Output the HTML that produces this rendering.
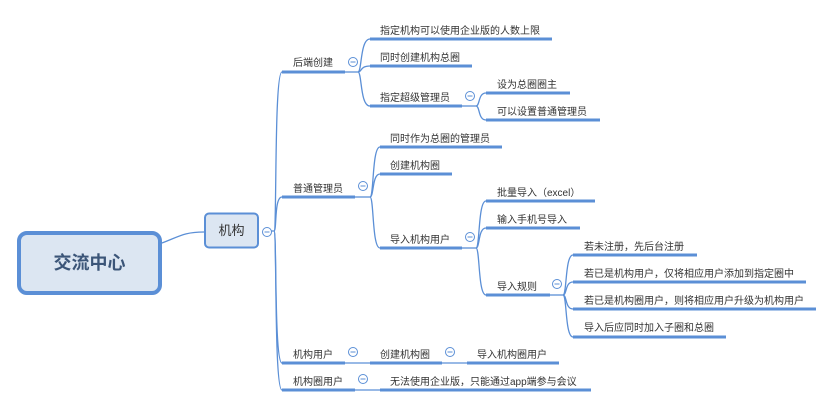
<!DOCTYPE html>
<html><head><meta charset="utf-8"><style>
html,body{margin:0;padding:0;background:#fff;width:834px;height:407px;overflow:hidden}
text{font-family:"Liberation Sans","Noto Sans CJK SC",sans-serif;font-size:10px;fill:#333}
</style></head><body>
<svg width="834" height="407" viewBox="0 0 834 407" xmlns="http://www.w3.org/2000/svg">
<g fill="none" stroke="#5b8fd6" stroke-width="1.3">
<path d="M162 243 C180 236,185 232,204 232"/>
<path d="M271 231 L274 231"/>
<path d="M274 231 C277 231,274 72,282 72"/>
<path d="M274 231 C277 231,274 197,282 197"/>
<path d="M274 231 C277 231,274 363,282 363"/>
<path d="M274 231 C277 231,274 390,282 390"/>
<path d="M345 72 L358 72"/>
<path d="M358 72 C362 72,360 39,370 39"/>
<path d="M358 72 C362 72,360 66,370 66"/>
<path d="M358 72 C362 72,360 106,370 106"/>
<path d="M462 106 L476 106"/>
<path d="M476 106 C480 106,478 93,486 93"/>
<path d="M476 106 C480 106,478 120,486 120"/>
<path d="M355 197 L370 197"/>
<path d="M370 197 C374 197,372 147,380 147"/>
<path d="M370 197 C374 197,372 174,380 174"/>
<path d="M370 197 C374 197,372 248,380 248"/>
<path d="M462 248 L476 248"/>
<path d="M476 248 C480 248,478 201,486 201"/>
<path d="M476 248 C480 248,478 228,486 228"/>
<path d="M476 248 C480 248,478 295,486 295"/>
<path d="M550 295 L563 295"/>
<path d="M563 295 C567 295,565 255,573 255"/>
<path d="M563 295 C567 295,565 282,573 282"/>
<path d="M563 295 C567 295,565 309,573 309"/>
<path d="M563 295 C567 295,565 337,573 337"/>
<path d="M345 363 L370 363"/>
<path d="M442 363 L467 363"/>
<path d="M355 390 L380 390"/>
</g>
<g stroke="#5b8fd6" stroke-width="3">
<line x1="282" y1="72" x2="345" y2="72"/>
<line x1="370" y1="39" x2="552" y2="39"/>
<line x1="370" y1="66" x2="472" y2="66"/>
<line x1="370" y1="106" x2="462" y2="106"/>
<line x1="486" y1="93" x2="570" y2="93"/>
<line x1="486" y1="120" x2="600" y2="120"/>
<line x1="282" y1="197" x2="355" y2="197"/>
<line x1="380" y1="147" x2="502" y2="147"/>
<line x1="380" y1="174" x2="452" y2="174"/>
<line x1="380" y1="248" x2="462" y2="248"/>
<line x1="486" y1="201" x2="595" y2="201"/>
<line x1="486" y1="228" x2="580" y2="228"/>
<line x1="486" y1="295" x2="550" y2="295"/>
<line x1="573" y1="255" x2="697" y2="255"/>
<line x1="573" y1="282" x2="806" y2="282"/>
<line x1="573" y1="309" x2="816" y2="309"/>
<line x1="573" y1="337" x2="726" y2="337"/>
<line x1="282" y1="363" x2="345" y2="363"/>
<line x1="370" y1="363" x2="442" y2="363"/>
<line x1="467" y1="363" x2="559" y2="363"/>
<line x1="282" y1="390" x2="355" y2="390"/>
<line x1="380" y1="390" x2="591" y2="390"/>
</g>
<rect x="19" y="233" width="141" height="60" rx="8" fill="#dce6f2" stroke="#5b8fd6" stroke-width="4"/>
<text x="89.5" y="269" text-anchor="middle" style="font-size:18px;font-weight:bold;fill:#3b5578">交流中心</text>
<rect x="205" y="213.5" width="53" height="34" rx="4" fill="#dce6f2" stroke="#5b8fd6" stroke-width="2"/>
<text x="231.5" y="235" text-anchor="middle" style="font-size:13px;fill:#333">机构</text>
<g fill="#fff" stroke="#5b8fd6" stroke-width="1">
<circle cx="267" cy="232" r="4.5"/>
<circle cx="353" cy="62" r="4.5"/>
<circle cx="470" cy="96" r="4.5"/>
<circle cx="363" cy="186" r="4.5"/>
<circle cx="470" cy="237" r="4.5"/>
<circle cx="557" cy="284" r="4.5"/>
<circle cx="353" cy="352" r="4.5"/>
<circle cx="450" cy="352" r="4.5"/>
<circle cx="363" cy="379" r="4.5"/>
</g>
<g stroke="#5b8fd6" stroke-width="1">
<line x1="264.5" y1="232" x2="269.5" y2="232"/>
<line x1="350.5" y1="62" x2="355.5" y2="62"/>
<line x1="467.5" y1="96" x2="472.5" y2="96"/>
<line x1="360.5" y1="186" x2="365.5" y2="186"/>
<line x1="467.5" y1="237" x2="472.5" y2="237"/>
<line x1="554.5" y1="284" x2="559.5" y2="284"/>
<line x1="350.5" y1="352" x2="355.5" y2="352"/>
<line x1="447.5" y1="352" x2="452.5" y2="352"/>
<line x1="360.5" y1="379" x2="365.5" y2="379"/>
</g>
<text x="293" y="66">后端创建</text>
<text x="380" y="34">指定机构可以使用企业版的人数上限</text>
<text x="380" y="61">同时创建机构总圈</text>
<text x="380" y="101">指定超级管理员</text>
<text x="497" y="88">设为总圈圈主</text>
<text x="497" y="115">可以设置普通管理员</text>
<text x="293" y="192">普通管理员</text>
<text x="390" y="142">同时作为总圈的管理员</text>
<text x="390" y="169">创建机构圈</text>
<text x="390" y="243">导入机构用户</text>
<text x="497" y="196">批量导入（excel）</text>
<text x="497" y="223">输入手机号导入</text>
<text x="497" y="290">导入规则</text>
<text x="584" y="250">若未注册，先后台注册</text>
<text x="584" y="277">若已是机构用户，仅将相应用户添加到指定圈中</text>
<text x="584" y="304">若已是机构圈用户，则将相应用户升级为机构用户</text>
<text x="584" y="331">导入后应同时加入子圈和总圈</text>
<text x="293" y="358">机构用户</text>
<text x="380" y="358">创建机构圈</text>
<text x="477" y="358">导入机构圈用户</text>
<text x="293" y="385">机构圈用户</text>
<text x="390" y="385">无法使用企业版，只能通过app端参与会议</text>
</svg>
</body></html>
